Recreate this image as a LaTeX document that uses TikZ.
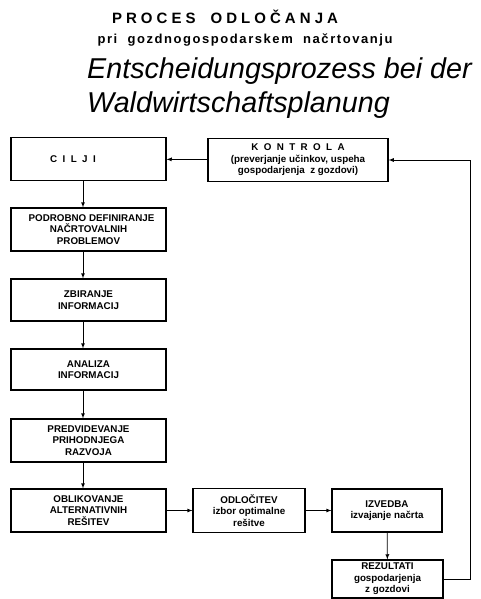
\documentclass[tikz,border=0pt]{standalone}
\usepackage{fontspec}
\setmainfont{Liberation Sans}
\usetikzlibrary{positioning}
\newcommand{\lsp}{\hspace{5.4pt}}
\tikzset{
	stage/.style={draw, line width=1.1pt, minimum width=155pt, minimum height=43pt, align=center, inner sep=1pt, font=\fontsize{9.8}{11.5}\selectfont\bfseries},
	smallstage/.style={stage, minimum width=111pt},
	link/.style={-latex, line width=0.8pt}
}
\begin{document}
\begin{tikzpicture}[x=1pt, y=-1pt]
		\useasboundingbox (0,0) rectangle (480,599);
		\pgfmathsetmacro{\colx}{88.5}
		\pgfmathsetmacro{\backx}{470}
		\coordinate (flow) at (83,0);

		\node[anchor=base] (titleone) at (225,24) {\fontsize{15}{18}\selectfont\bfseries\addfontfeature{LetterSpace=27}PROCES\quad ODLOČANJA};
		\node[anchor=base] (titletwo) at (245,44) {\fontsize{13}{16}\selectfont\bfseries\addfontfeature{LetterSpace=12}pri\ \ gozdnogospodarskem\ \ načrtovanju};
		\node[anchor=base west, inner sep=0pt] (titlethree) at (87,79) {\fontsize{28.7}{33}\selectfont\itshape Entscheidungsprozess bei der};
		\node[anchor=base west, inner sep=0pt] (titlefour) at (87,113) {\fontsize{28.7}{33}\selectfont\itshape Waldwirtschaftsplanung};

		\node[stage] (cilji) at (\colx,159) {C\lsp I\lsp L\lsp J\lsp I\hspace{31pt}};
		\node[stage, minimum width=180pt] (kontrola) at (298,160) {K\lsp O\lsp N\lsp T\lsp R\lsp O\lsp L\lsp A\\(preverjanje učinkov, uspeha\\gospodarjenja\ \ z gozdovi)};
		\node[stage] (podrobno) at (\colx,229.5) {\hspace*{6pt}PODROBNO DEFINIRANJE\\NAČRTOVALNIH\\PROBLEMOV};
		\node[stage, minimum height=42pt] (zbiranje) at (\colx,300) {ZBIRANJE\\INFORMACIJ};
		\node[stage, minimum height=41pt] (analiza) at (\colx,369.5) {ANALIZA\\INFORMACIJ};
		\node[stage] (predvidevanje) at (\colx,440.5) {PREDVIDEVANJE\\PRIHODNJEGA\\RAZVOJA};
		\node[stage] (oblikovanje) at (\colx,510.5) {OBLIKOVANJE\\ALTERNATIVNIH\\REŠITEV};
		\node[smallstage, minimum width=112pt, minimum height=44pt] (odlocitev) at (249,510.5) {ODLOČITEV\\izbor optimalne\\rešitve};
		\node[smallstage, minimum width=110pt] (izvedba) at (387,510.5) {IZVEDBA\\izvajanje načrta};
		\node[smallstage, minimum height=38pt] (rezultati) at (387.5,579) {REZULTATI\\gospodarjenja\\z gozdovi};

		\draw[link] (kontrola) -- (cilji);
		\draw[link] (cilji.south -| flow) -- (podrobno.north -| flow);
		\draw[link] (podrobno.south -| flow) -- (zbiranje.north -| flow);
		\draw[link] (zbiranje.south -| flow) -- (analiza.north -| flow);
		\draw[link] (analiza.south -| flow) -- (predvidevanje.north -| flow);
		\draw[link] (predvidevanje.south -| flow) -- (oblikovanje.north -| flow);
		\draw[link] (oblikovanje) -- (odlocitev);
		\draw[link] (odlocitev) -- (izvedba);
		\draw[link] (izvedba) -- (rezultati);
		\draw[link] (rezultati.east) -- (\backx,579) |- (kontrola.east);
	\end{tikzpicture}
\end{document}
